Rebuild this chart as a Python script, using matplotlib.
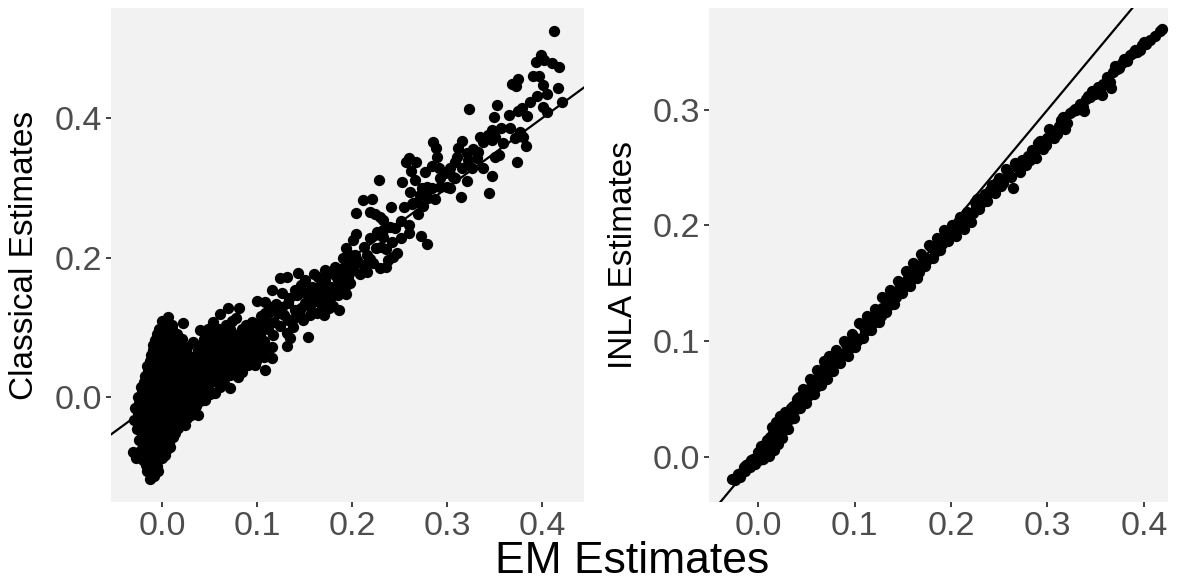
import matplotlib
matplotlib.use('Agg')
import matplotlib.pyplot as plt

plt.rcParams['font.family'] = ['Liberation Sans', 'DejaVu Sans']

# ===== data: (EM, other estimate) ===== #
classical_blob = [
    (-.013, -.117), (-.008, -.114), (-.016, -.106), (-.010, -.104), (-.004, -.106),
    (-.0305, -.079), (-.027, -.0875), (-.020, -.091), (-.014, -.093), (-.007, -.089), (0, -.0875),
    (-.022, -.076), (-.016, -.078), (-.009, -.074), (-.002, -.077), (.005, -.074), (.0084, -.072),
    (-.024, -.061), (-.018, -.063), (-.011, -.059), (-.004, -.062), (.003, -.058), (.0116, -.057),
    (-.026, -.046), (-.019, -.044), (-.012, -.048), (-.005, -.044), (.002, -.047), (.009, -.043), (.017, -.045), (.024, -.040),
    (-.030, -.033), (-.024, -.030), (-.017, -.032), (-.010, -.028), (-.003, -.031), (.004, -.029), (.011, -.032), (.018, -.028), (.026, -.030), (.030, -.026),
    (-.028, -.016), (-.021, -.014), (-.014, -.017), (-.007, -.013), (0, -.016), (.007, -.014), (.014, -.017), (.021, -.013), (.028, -.016), (.038, -.026), (.036, -.013),
    (-.025, 0), (-.018, .002), (-.011, -.002), (-.004, .002), (.003, -.001), (.010, .002), (.017, -.002), (.024, .002), (.031, -.001), (.038, .001), (.045, -.004),
    (-.022, .015), (-.015, .017), (-.008, .013), (-.001, .016), (.006, .014), (.013, .017), (.020, .013), (.027, .016), (.034, .014), (.041, .017), (.048, .012), (.056, .0057), (.061, .014), (.0716, .013),
    (-.018, .030), (-.012, .032), (-.005, .028), (.002, .031), (.009, .029), (.016, .032), (.023, .028), (.030, .031), (.037, .029), (.044, .032), (.051, .028), (.058, .031), (.065, .029), (.072, .032), (.08, .0287),
    (-.016, .045), (-.009, .047), (-.002, .043), (.005, .046), (.012, .044), (.019, .047), (.026, .043), (.033, .046), (.040, .044), (.047, .047), (.054, .043), (.061, .046), (.068, .044), (.075, .047), (.082, .043), (.090, .046), (.098, .046),
    (-.012, .060), (-.005, .062), (.002, .058), (.009, .061), (.016, .059), (.023, .062), (.030, .058), (.037, .061), (.044, .059), (.051, .062), (.058, .058), (.065, .061), (.072, .059), (.079, .062), (.086, .058), (.093, .061), (.100, .059), (.107, .057), (.116, .056),
    (-.009, .075), (-.002, .077), (.005, .073), (.012, .076), (.019, .074), (.026, .072), (.033, .079), (.042, .076), (.049, .073), (.056, .076), (.063, .074), (.070, .077), (.077, .073), (.084, .076), (.091, .074), (.098, .077), (.105, .074), (.1158, .0717),
    (-.005, .090), (.002, .092), (.009, .088), (.016, .091), (.04, .096), (.047, .089), (.054, .091), (.061, .088), (.068, .091), (.075, .089), (.082, .092), (.089, .088), (.096, .091), (.103, .089), (.1168, .089),
    (0, .109), (.0063, .115), (.004, .101), (.010, .103), (.022, .106), (.054, .1076), (.061, .119), (.067, .104), (.0695, .1277), (.074, .109), (.081, .1277), (.088, .104), (.095, .107), (.102, .103), (.109, .106),
]

# second pass over the blob, the marks between the rows above
classical_fill = [
    (-.017, -.098), (-.011, -.097), (-.005, -.099),
    (-.017, -.083), (-.010, -.084), (-.003, -.082), (.003, -.083),
    (-.019, -.068), (-.012, -.069), (-.005, -.067), (.002, -.068), (.007, -.066),
    (-.021, -.053), (-.014, -.054), (-.007, -.052), (0, -.053), (.007, -.054), (.014, -.052),
    (-.024, -.038), (-.017, -.039), (-.010, -.037), (-.003, -.038), (.004, -.037), (.011, -.039), (.018, -.037), (.024, -.031),
    (-.025, -.023), (-.018, -.024), (-.011, -.022), (-.004, -.023), (.003, -.022), (.010, -.024), (.017, -.022), (.024, -.023), (.031, -.021),
    (-.024, -.008), (-.017, -.007), (-.010, -.009), (-.003, -.008), (.004, -.007), (.011, -.009), (.018, -.008), (.025, -.007), (.032, -.008), (.040, -.006),
    (-.021, .007), (-.014, .008), (-.007, .006), (0, .007), (.007, .008), (.014, .006), (.021, .007), (.028, .008), (.035, .006), (.042, .007), (.050, .005),
    (-.019, .022), (-.012, .023), (-.005, .021), (.002, .022), (.009, .023), (.016, .021), (.023, .022), (.030, .023), (.037, .021), (.044, .022), (.051, .021), (.058, .022), (.065, .020),
    (-.015, .037), (-.008, .038), (-.001, .036), (.006, .037), (.013, .038), (.020, .036), (.027, .037), (.034, .038), (.041, .036), (.048, .037), (.055, .038), (.062, .036), (.069, .037), (.076, .038), (.084, .036),
    (-.013, .052), (-.006, .053), (.001, .051), (.008, .052), (.015, .053), (.022, .051), (.029, .052), (.036, .053), (.043, .051), (.050, .052), (.057, .053), (.064, .051), (.071, .052), (.078, .053), (.085, .051), (.092, .052), (.099, .052),
    (-.010, .067), (-.003, .068), (.004, .066), (.011, .067), (.018, .068), (.025, .066), (.038, .068), (.045, .066), (.052, .067), (.059, .068), (.066, .066), (.073, .067), (.080, .068), (.087, .066), (.094, .067), (.101, .068), (.108, .066),
    (-.007, .082), (0, .083), (.007, .081), (.014, .082), (.021, .083), (.044, .083), (.051, .082), (.058, .083), (.065, .082), (.072, .083), (.079, .082), (.086, .083), (.093, .082), (.100, .083), (.107, .081),
    (-.003, .097), (.004, .096), (.011, .097), (.048, .098), (.060, .097), (.072, .098), (.084, .097), (.092, .098), (.100, .096), (.078, .113),
]

classical_mid = [
    (.100, .138), (.108, .136), (.116, .1535), (.126, .149), (.132, .172), (.124, .171), (.154, .086),
    (.186, .125), (.185, .146), (.131, .073), (.108, .039), (.1432, .1779), (.1505, .1679), (.1642, .1722),
    (.1716, .1822), (.1853, .1679), (.14, .1535), (.1505, .1492), (.1642, .1492), (.1747, .1535), (.1505, .1349),
    (.1684, .1291), (.1484, .1105), (.1558, .1176), (.1326, .1349), (.1221, .1205), (.1326, .1105), (.1347, .0846),
    (.1316, .0918), (.1084, .1205), (.1158, .1291), (.1263, .1291), (.158, .142), (.172, .166), (.178, .143),
    (.192, .158), (.196, .172), (.202, .188), (.182, .186), (.208, .176), (.17, .118), (.118, .108), (.14, .125),
    (.112, .097), (.124, .102), (.138, .112), (.146, .128), (.162, .138), (.176, .128), (.158, .158), (.188, .178),
    (.104, .116), (.112, .122), (.120, .134), (.128, .118), (.134, .142), (.138, .100), (.142, .146), (.144, .120),
    (.146, .160), (.154, .150), (.156, .130), (.160, .176), (.163, .120), (.166, .158), (.168, .146), (.172, .140),
    (.175, .176), (.178, .158), (.180, .130), (.183, .174), (.186, .158), (.190, .170), (.194, .148), (.198, .164),
    (.205, .196), (.212, .190), (.216, .204), (.222, .192), (.225, .214), (.236, .212), (.238, .196), (.232, .240),
]

classical_upper = [
    (.228, .311), (.252, .308), (.2116, .2826), (.221, .284), (.204, .264), (.241, .2726), (.219, .2654),
    (.224, .2625), (.2295, .258), (.2326, .254), (.24, .244), (.245, .2425), (.2516, .2525), (.2547, .2726),
    (.263, .277), (.2695, .2625), (.26, .2468), (.26, .2353), (.2726, .231), (.279, .2195), (.2516, .228),
    (.242, .2224), (.2474, .2066), (.243, .2009), (.204, .2339), (.201, .2252), (.2295, .2324), (.2326, .2295),
    (.2263, .2367), (.219, .228), (.2126, .2152), (.2305, .2152), (.1937, .2138), (.219, .198), (.2295, .185),
    (.2358, .1865), (.2158, .1793), (.198, .2037), (.203, .2037), (.1905, .1994), (.1958, .192), (.1905, .185),
    (.198, .1793), (.26, .3429), (.2568, .3372), (.2674, .3372), (.262, .3242), (.2663, .3113), (.2853, .3659),
    (.2884, .3572), (.2895, .3443), (.2842, .3314), (.2768, .3228), (.2916, .3285), (.261, .2941), (.2737, .2999),
    (.279, .3013), (.2842, .2999), (.2716, .2898), (.2768, .2898), (.2684, .2798), (.28, .2855), (.2874, .2841),
    (.2747, .274), (.2642, .2783), (.2926, .3142), (.2979, .3214), (.3032, .3285), (.3063, .3156), (.2926, .3013),
    (.3, .3013), (.3032, .2999), (.308, .3142), (.321, .3099), (.3147, .2869), (.3442, .2927), (.3474, .3171),
    (.3379, .3285), (.3105, .3443), (.3084, .3372), (.3158, .3285), (.3263, .3285), (.3116, .3572), (.3158, .3673),
    (.321, .35), (.3274, .3558), (.3326, .3515), (.3221, .34), (.3316, .3429), (.3347, .373), (.3379, .3659),
    (.3432, .3759), (.3474, .383), (.3505, .373), (.3474, .3687), (.3505, .3443), (.3547, .3472), (.3589, .3644),
    (.3716, .3716), (.38, .373), (.3832, .3601), (.3737, .3372), (.377, .3806), (.3565, .3864), (.366, .3855),
    (.349, .4017), (.365, .4046), (.384, .4036), (.405, .409), (.401, .4165), (.375, .410), (.379, .415),
    (.323, .413), (.352, .419), (.421, .423), (.387, .423), (.395, .432), (.405, .435), (.417, .443),
    (.401, .4476), (.372, .446), (.368, .4486), (.375, .456), (.3965, .461), (.3905, .4605), (.418, .4735),
    (.410, .479), (.394, .481), (.402, .484), (.399, .4907), (.4126, .5256),
]

inla_points = [
    (-.027, -.019), (-.024, -.020), (-.021, -.015), (-.018, -.014), (-.015, -.009), (-.013, -.012), (-.010, -.006),
    (-.008, -.009), (-.005, -.002), (-.003, -.006), (0, .004), (.001, -.003), (.004, .006), (.006, .001), (.008, .012),
    (.010, .005), (.012, .017), (.014, .009), (.016, .021), (.018, .012), (.020, .024), (.022, .017), (.024, .031),
    (.027, .023), (.030, .035), (.033, .033), (.036, .044), (.039, .041), (.042, .052), (.045, .049), (.048, .056),
    (.052, .053), (.056, .064), (.060, .060), (.063, .071), (.066, .069), (.069, .080), (.072, .074), (.075, .083),
    (.079, .080), (.083, .090), (.087, .088), (.091, .098), (.095, .094), (.099, .104), (.103, .100), (.107, .115),
    (.111, .109), (.115, .119), (.119, .116), (.123, .125), (.127, .122), (.131, .137), (.135, .130), (.139, .142),
    (.143, .138), (.147, .150), (.151, .147), (.155, .158), (.159, .153), (.163, .166), (.167, .160), (.171, .172),
    (.175, .170), (.179, .181), (.183, .177), (.187, .186), (.191, .184), (.195, .193), (.199, .1936), (.203, .194),
    (.207, .203), (.211, .199), (.215, .208), (.219, .205), (.223, .211), (.227, .223), (.231, .2195), (.235, .227),
    (.2404, .2308), (.244, .232), (.248, .238), (.252, .234), (.2591, .2455), (.2642, .2325), (.2684, .2507), (.272, .246),
    (.276, .255), (.2819, .2567), (.286, .262), (.2902, .2714), (.295, .266), (.3, .274), (.3047, .28), (.31, .279),
    (.3135, .291), (.3202, .2887), (.3233, .2973), (.33, .300), (.3368, .3025), (.34, .309), (.344, .3112), (.349, .314),
    (.3544, .3172), (.358, .322), (.3648, .3241), (.3679, .3328), (.372, .335), (.3769, .3405), (.382, .342),
    (.3886, .3492), (.393, .350), (.3976, .3561), (.402, .357), (.4062, .3604), (.411, .364), (.4166, .3685), (.419, .370),
]

# marks either side of the main strand, they make the band as thick as it is
inla_band = [
    (-.019, -.017), (-.012, -.007), (-.007, -.003), (-.002, -.002), (.003, .009), (.005, -.002), (.009, .015), (.011, .001),
    (.015, .026), (.017, .006), (.019, .030), (.021, .011), (.023, .035), (.025, .016), (.028, .039), (.031, .024),
    (.034, .042), (.037, .034), (.040, .050), (.044, .042), (.047, .059), (.050, .047), (.054, .067), (.058, .054),
    (.061, .075), (.065, .062), (.068, .083), (.071, .067), (.074, .087), (.078, .074), (.081, .092), (.085, .081),
    (.089, .100), (.093, .087), (.097, .106), (.101, .095), (.105, .116), (.109, .103), (.113, .122), (.117, .110),
    (.121, .128), (.125, .117), (.129, .138), (.133, .125), (.137, .144), (.141, .132), (.145, .152), (.149, .142),
    (.153, .161), (.157, .148), (.161, .168), (.165, .155), (.169, .175), (.173, .165), (.177, .183), (.181, .172),
    (.185, .189), (.189, .179), (.193, .196), (.197, .187), (.201, .200), (.205, .191), (.209, .207), (.213, .197),
    (.217, .212), (.221, .203), (.225, .220), (.229, .214), (.233, .225), (.237, .221), (.242, .235), (.246, .228),
    (.250, .241), (.254, .237), (.257, .249), (.262, .242), (.266, .254), (.270, .249), (.274, .257), (.278, .252),
    (.284, .265), (.288, .258), (.292, .273), (.298, .270), (.302, .283), (.307, .276), (.312, .286), (.316, .294),
    (.318, .283), (.326, .299), (.334, .305), (.338, .299), (.346, .316), (.352, .320), (.356, .313), (.362, .328),
    (.366, .319), (.370, .338), (.374, .336), (.379, .344), (.385, .347), (.391, .352), (.396, .352), (.400, .359),
    (.029, .030), (.038, .042), (.046, .053), (.055, .060), (.064, .070), (.073, .079), (.082, .086), (.092, .092),
    (.100, .100), (.110, .112), (.118, .120), (.128, .129), (.136, .137), (.146, .145), (.154, .153), (.164, .161),
    (.174, .172), (.184, .182), (.194, .190), (.206, .198), (.216, .205), (.226, .216), (.236, .224), (.248, .233),
    (.258, .243), (.268, .252), (.280, .260), (.290, .268), (.300, .276), (.314, .288), (.328, .301), (.342, .312),
]

x_ticks = [0.0, 0.1, 0.2, 0.3, 0.4]
left_y_ticks = [0.0, 0.2, 0.4]
right_y_ticks = [0.0, 0.1, 0.2, 0.3]

# ===== figure and panels ===== #
W, H = 1177, 583
fig = plt.figure(figsize=(W / 100, H / 100), dpi=100)
ax1 = fig.add_axes([111 / W, 1 - 502 / H, 473 / W, 494 / H])
ax2 = fig.add_axes([709 / W, 1 - 502 / H, 459 / W, 494 / H])

left_points = classical_blob + classical_fill + classical_mid + classical_upper
right_points = inla_points + inla_band
panels = [
    (ax1, left_points, left_y_ticks, (-.0537, .444), (-.1506, .558), 'Classical Estimates', 25),
    (ax2, right_points, right_y_ticks, (-.0508, .4249), (-.039, .388), 'INLA Estimates', 623),
]

for ax, points, y_ticks, xlim, ylim, ylabel, label_x in panels:
    xs, ys = zip(*points)
    ax.set_facecolor('#F2F2F2')
    ax.scatter(xs, ys, s=66, color='black', linewidths=0, zorder=2)
    ax.plot([-1, 1], [-1, 1], color='black', lw=1.6, zorder=3)
    ax.set_xlim(xlim)
    ax.set_ylim(ylim)
    ax.set_xticks(x_ticks)
    ax.set_yticks(y_ticks)
    ax.set_xticklabels([f'{t:.1f}' for t in x_ticks])
    ax.set_yticklabels([f'{t:.1f}' for t in y_ticks])
    ax.tick_params(labelsize=24.5, labelcolor='#4D4D4D', color='#333333', length=3.6, width=1.3, pad=3)
    for spine in ax.spines.values():
        spine.set_visible(False)
    fig.text(label_x / W, 1 - 255 / H, ylabel, fontsize=24, color='black',
             rotation=90, ha='center', va='center')

# a little higher than the reference so the text box stays inside the figure
fig.text(632 / W, 1 - 573 / H, 'EM Estimates', fontsize=32, color='black', ha='center', va='baseline')

plt.savefig('out.png', dpi=100)
